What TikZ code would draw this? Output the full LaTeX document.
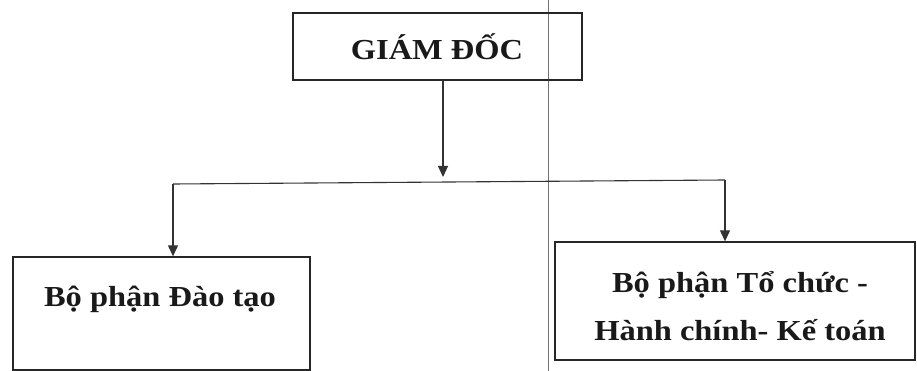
\documentclass[tikz,border=0pt]{standalone}
\usepackage{fontspec}
\setmainfont[FakeStretch=1.12]{Liberation Serif}
\usetikzlibrary{arrows.meta}
\begin{document}
\begin{tikzpicture}[x=1pt,y=-1pt,
  box/.style={draw=black!85, line width=1.3pt, rectangle, inner sep=0pt},
  lbl/.style={font=\fontsize{29}{48}\selectfont\bfseries, text=black!90, align=center, inner sep=0pt},
  conn/.style={draw=black!80, line width=1.1pt},
  arr/.style={conn, -{Triangle[length=11pt,width=10pt]}},
  fold/.style={draw=black!55, line width=0.7pt}]
\useasboundingbox (0,0) rectangle (917,371);
% page fold line
\coordinate (ft) at (548,0);
\coordinate (fb) at (548,371);
\draw[fold] (ft) -- (fb);
% boxes
\node[box, minimum width=289pt, minimum height=67pt] (gd) at (437.5,46.5) {};
\node[lbl] (gdt) at (437,47) {GIÁM ĐỐC};
\node[box, minimum width=297pt, minimum height=113pt] (dt) at (161.5,313.5) {};
\node[lbl] (dtt) at (160,299) {Bộ phận Đào tạo};
\node[box, minimum width=360pt, minimum height=118pt, fill=white] (tc) at (735,301) {};
\node[lbl] (tct) at (740,306) {Bộ phận Tổ chức -\\Hành chính- Kế toán};
% connectors
\coordinate (ga) at (443,80);
\coordinate (gt) at (443,177);
\coordinate (b1) at (173,184);
\coordinate (b2) at (725,180);
\draw[arr] (ga) -- (gt);
\draw[conn] (b1) -- (b2);
\draw[arr] (b1) -- (b1 |- dt.north);
\draw[arr] (b2) -- (b2 |- tc.north);
\end{tikzpicture}
\end{document}
